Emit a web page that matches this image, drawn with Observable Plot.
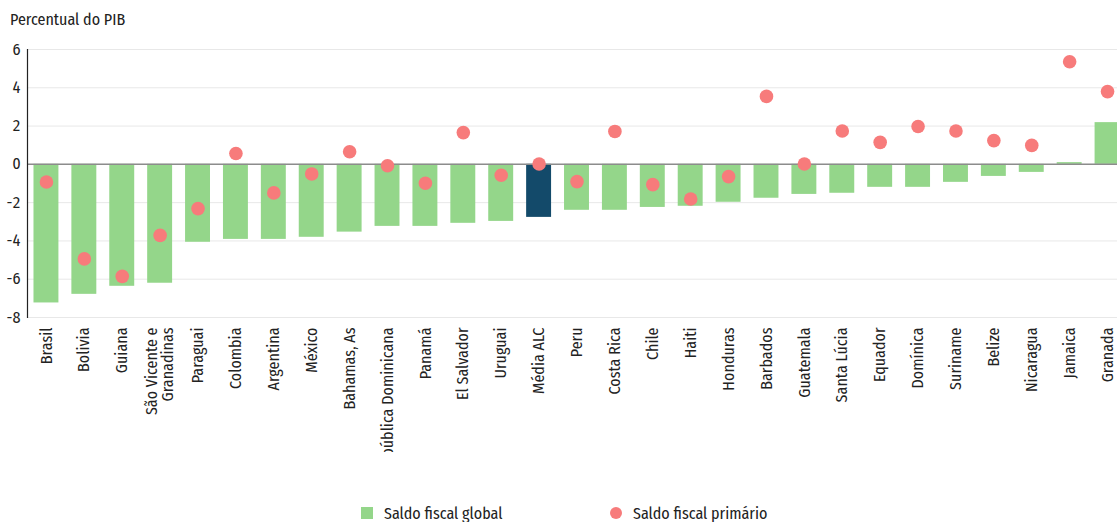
<!DOCTYPE html>
<html>
<head>
<meta charset="utf-8">
<script src="https://cdn.jsdelivr.net/npm/d3@7"></script>
<script src="https://cdn.jsdelivr.net/npm/@observablehq/plot@0.6"></script>
<style>
  html, body { margin: 0; padding: 0; background: #fff; overflow: hidden; }
  body { font-family: "Fira Sans Condensed", "Open Sans", sans-serif; color: #222; width: 1117px; }
  #title { height: 30px; font-size: 16px; line-height: 20px; padding: 10px 0 0 10px; box-sizing: border-box; color: #222; white-space: nowrap; }
  #chart { height: 422px; overflow: hidden; }
  #legend { position: relative; height: 22px; margin-top: 50px; font-size: 16px; color: #222; }
  .item { position: absolute; top: 0; height: 22px; display: flex; align-items: center; white-space: nowrap; }
  .sw { width: 12px; height: 12px; margin-right: 11px; flex: none; }
</style>
</head>
<body>
<div id="title">Percentual do PIB</div>
<div id="chart"></div>
<div id="legend"></div>
<script>
const categories = ["Brasil","Bolivia","Guiana","São Vicente e Granadinas","Paraguai","Colombia","Argentina","México","Bahamas, As","República Dominicana","Panamá","El Salvador","Uruguai","Média ALC","Peru","Costa Rica","Chile","Haiti","Honduras","Barbados","Guatemala","Santa Lúcia","Equador","Domínica","Suriname","Belize","Nicaragua","Jamaica","Granada"];
const saldoGlobal = [-7.24,-6.79,-6.37,-6.21,-4.07,-3.92,-3.92,-3.81,-3.54,-3.24,-3.24,-3.08,-2.98,-2.77,-2.40,-2.40,-2.25,-2.19,-1.98,-1.77,-1.57,-1.51,-1.20,-1.20,-0.94,-0.63,-0.42,0.09,2.18];
const saldoPrimario = [-0.92,-4.94,-5.85,-3.71,-2.31,0.57,-1.49,-0.50,0.66,-0.07,-0.99,1.66,-0.57,0.02,-0.90,1.72,-1.06,-1.81,-0.64,3.55,0.02,1.74,1.15,1.98,1.74,1.24,0.99,5.36,3.80];
const yTicks = [6,4,2,0,-2,-4,-6,-8];
const averageLabel = "Média ALC";
const seriesNames = ["Saldo fiscal global","Saldo fiscal primário"];
const colors = {global: "#94d68a", average: "#134a6a", primary: "#f77b7b", zero: "#8c8c8c", grid: "#e8e8e8"};
const font = "Fira Sans Condensed";

const data = categories.map((c, i) => ({cat: c, global: saldoGlobal[i], primary: saldoPrimario[i]}));

const chart = Plot.plot({
  width: 1117,
  height: 422,
  marginTop: 19,
  marginLeft: 27,
  marginRight: 0,
  marginBottom: 135,
  style: {fontFamily: font, fontSize: "16px", color: "#222", overflow: "visible", maxWidth: "none", background: "white"},
  x: {domain: categories, range: [27, 1126], round: false, paddingInner: 0.342, paddingOuter: 0.171, label: null},
  y: {domain: [-8, 6], label: null},
  marks: [
    Plot.gridY(yTicks, {stroke: colors.grid, strokeOpacity: 1, strokeWidth: 1}),
    Plot.barY(data, {x: "cat", y: "global", fill: d => d.cat === averageLabel ? colors.average : colors.global}),
    Plot.ruleY([0], {stroke: colors.zero, strokeWidth: 1.5}),
    Plot.frame({anchor: "left", stroke: "#222", strokeWidth: 1.2}),
    Plot.dot(data, {x: "cat", y: "primary", r: 6.8, fill: colors.primary}),
    Plot.axisY(yTicks, {tickSize: 0, tickPadding: 7, tickFormat: d => String(d), label: null, fontSize: 16}),
    Plot.axisX({tickSize: 0, tickPadding: 10, tickRotate: -90, label: null, fontSize: 16,
      tickFormat: d => d === "São Vicente e Granadinas" ? "São Vicente e\nGranadinas" : d})
  ]
});
document.getElementById("chart").appendChild(chart);

const legend = document.getElementById("legend");
const items = [
  {name: seriesNames[0], color: colors.global, round: false, left: 361},
  {name: seriesNames[1], color: colors.primary, round: true, left: 610}
];
for (const it of items) {
  const el = document.createElement("div");
  el.className = "item";
  el.style.left = it.left + "px";
  const sw = document.createElement("span");
  sw.className = "sw";
  sw.style.background = it.color;
  if (it.round) sw.style.borderRadius = "50%";
  const tx = document.createElement("span");
  tx.textContent = it.name;
  el.appendChild(sw); el.appendChild(tx);
  legend.appendChild(el);
}
</script>
</body>
</html>
